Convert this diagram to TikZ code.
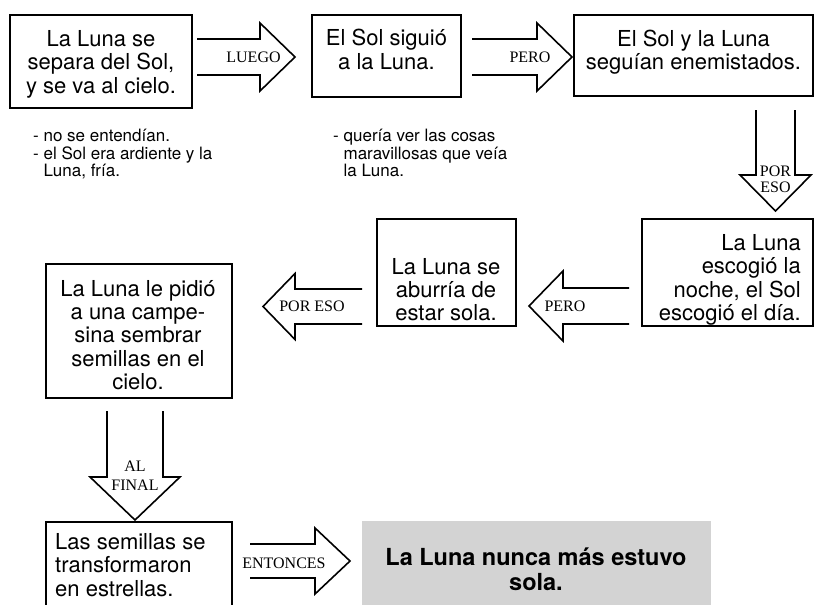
\documentclass[tikz,border=0pt]{standalone}
\usepackage{fontspec}
\setmainfont{TeX Gyre Heros}
\newfontfamily\tagfont{Liberation Serif}

\definecolor{endgray}{RGB}{211,211,211}

\begin{document}
\begin{tikzpicture}[x=1pt, y=-1pt,
	box/.style={draw, line width=2pt, inner sep=0pt},
	boxtext/.style={inner sep=0pt, font=\fontsize{22pt}{23.3pt}\selectfont},
	note/.style={inner sep=0pt, align=left, anchor=west, font=\fontsize{17pt}{17.5pt}\selectfont},
	hollow/.style={draw, line width=1.6pt, line join=miter},
	tag/.style={inner sep=0pt, align=center, font=\tagfont\fontsize{16pt}{16pt}\selectfont}]

\path [use as bounding box] (0,0) rectangle (814,605);
\clip (0,0) rectangle (814,605);

% BOXES
\node [box, minimum width=182pt, minimum height=93pt] (separa) at (101,61.5) {};
\node [box, minimum width=149pt, minimum height=82pt] (sigue) at (386.5,56) {};
\node [box, minimum width=239pt, minimum height=81pt] (enemigos) at (693.5,55.5) {};
\node [box, minimum width=171pt, minimum height=107pt] (escoge) at (727.5,272.5) {};
\node [box, minimum width=139pt, minimum height=107pt] (aburre) at (446.5,272.5) {};
\node [box, minimum width=186pt, minimum height=134pt] (pide) at (139,331) {};
\node [box, minimum width=186pt, minimum height=118pt] (semillas) at (139,581) {};
\node [fill=endgray, inner sep=0pt, minimum width=349pt, minimum height=119pt] (nunca) at (536.5,580.5) {};

% TEXTS
\node [boxtext, align=center] (separa-t) at (101,64.3) {La Luna se\\separa del Sol,\\y se va al cielo.};
\node [boxtext, align=center] (sigue-t) at (386.5,49.5) {El Sol siguió\\a la Luna.};
\node [boxtext, align=center] (enemigos-t) at (693.5,52.3) {El Sol y la Luna\\seguían enemistados.};
\node [boxtext, align=right, anchor=east] (escoge-t) at (801,279.8) {La Luna\\escogió la\\noche, el Sol\\escogió el día.};
\node [boxtext, align=center] (aburre-t) at (446,289.5) {La Luna se\\aburría de\\estar sola.};
\node [boxtext, align=center] (pide-t) at (138,335) {La Luna le pidió\\a una campe-\\sina sembrar\\semillas en el\\cielo.};
\node [boxtext, align=left, anchor=west] (semillas-t) at (55,565) {Las semillas se\\transformaron\\en estrellas.};
\node [boxtext, align=center, font=\fontsize{23.5pt}{25pt}\selectfont\bfseries] (nunca-t) at (536,569) {La Luna nunca más estuvo\\sola.};

% NOTES
\node [note] (nota1) at (33,154.3) {- no se entendían.\\- el Sol era ardiente y la\\\hphantom{- }Luna, fría.};
\node [note] (nota2) at (333,153) {- quería ver las cosas\\\hphantom{- }maravillosas que veía\\\hphantom{- }la Luna.};

% ARROWS
\coordinate (luego-a) at (197,57);
\draw [hollow] (luego-a) +(0,-18) -- +(63,-18) -- +(63,-34) -- +(98,0) -- +(63,34) -- +(63,18) -- +(0,18);
\node [tag] (luego) at (253.5,57.4) {LUEGO};

\coordinate (pero1-a) at (472,57);
\draw [hollow] (pero1-a) +(0,-18) -- +(65,-18) -- +(65,-34) -- +(100,0) -- +(65,34) -- +(65,18) -- +(0,18);
\node [tag] (pero1) at (530,57.4) {PERO};

\coordinate (poreso1-a) at (775.5,110);
\draw [hollow] (poreso1-a) +(-19.5,0) -- +(-19.5,65) -- +(-35.5,65) -- +(0,101) -- +(35.5,65) -- +(19.5,65) -- +(19.5,0);
\node [tag] (poreso1) at (775.5,179.7) {POR\\ESO};

\coordinate (pero2-a) at (629,306);
\draw [hollow] (pero2-a) +(0,-18) -- +(-66,-18) -- +(-66,-35) -- +(-100,0) -- +(-66,35) -- +(-66,18) -- +(0,18);
\node [tag] (pero2) at (565,306) {PERO};

\coordinate (poreso2-a) at (362,306.5);
\draw [hollow] (poreso2-a) +(0,-17.5) -- +(-67,-17.5) -- +(-67,-33) -- +(-99,0) -- +(-67,33) -- +(-67,17.5) -- +(0,17.5);
\node [tag] (poreso2) at (312,306) {POR ESO};

\coordinate (alfinal-a) at (135,411);
\draw [hollow] (alfinal-a) +(-28,0) -- +(-28,66) -- +(-45,66) -- +(0,109) -- +(45,66) -- +(28,66) -- +(28,0);
\node [tag] (alfinal) at (135,476) {AL\\[3pt]FINAL};

\coordinate (entonces-a) at (250,561);
\draw [hollow] (entonces-a) +(0,-17) -- +(65,-17) -- +(65,-33) -- +(100,0) -- +(65,33) -- +(65,17) -- +(0,17);
\node [tag] (entonces) at (284,563) {ENTONCES};

\end{tikzpicture}
\end{document}
